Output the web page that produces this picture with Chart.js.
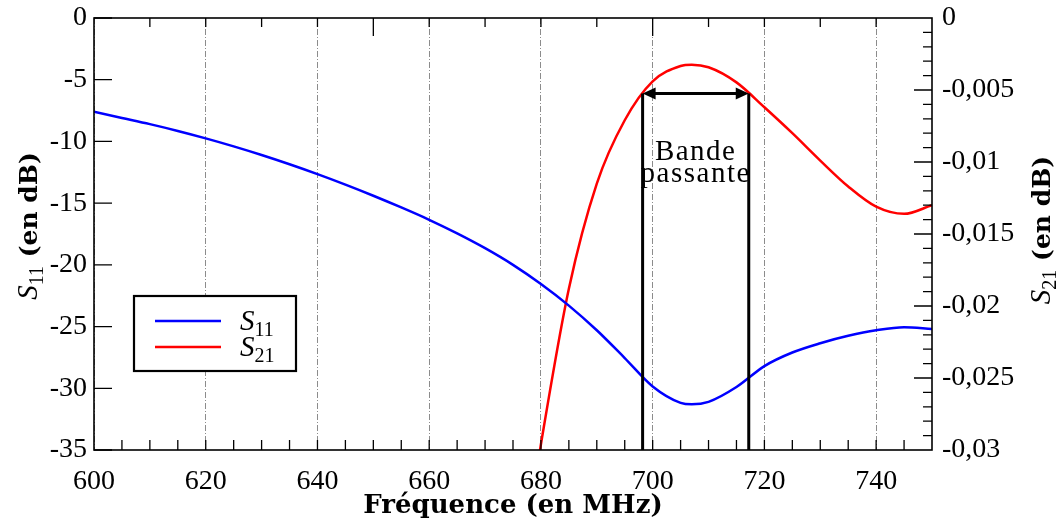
<!DOCTYPE html>
<html>
<head>
<meta charset="utf-8">
<script src="https://cdn.jsdelivr.net/npm/chart.js@4.4.1/dist/chart.umd.min.js"></script>
<style>
  html, body { margin: 0; padding: 0; background: #fff; }
</style>
</head>
<body>
<canvas id="graphe" width="1064" height="525"></canvas>
<script>
// S11 (dB), axe de gauche
const freqS11 = [600, 605, 610, 615, 620, 625, 630, 635, 640, 645, 650, 655, 660, 665, 670, 675,
                 680, 685, 690, 695, 700, 705, 707, 710, 715, 720, 725, 730, 735, 740, 745, 750];
const valS11 = [-7.6, -8.1, -8.6, -9.15, -9.75, -10.4, -11.1, -11.85, -12.65, -13.5, -14.4, -15.35, -16.35, -17.45, -18.65, -20.0,
                -21.55, -23.3, -25.3, -27.55, -29.85, -31.18, -31.3, -31.1, -29.9, -28.2, -27.1, -26.35, -25.75, -25.3, -25.05, -25.2];

// S21 (dB), axe de droite
const freqS21 = [678, 680, 685, 690, 695, 700, 705, 707, 710, 715, 720, 725, 730, 735, 740, 745, 750];
const valS21 = [-0.0345, -0.0296, -0.0188, -0.0115, -0.0071, -0.0044, -0.00333, -0.00324, -0.00342, -0.00447,
                -0.0062, -0.0080, -0.0099, -0.0117, -0.0131, -0.0136, -0.0130];

// graduations
const xTicks = [600, 620, 640, 660, 680, 700, 720, 740];
const yTicks = [0, -5, -10, -15, -20, -25, -30, -35];
const y2Ticks = [0, -0.005, -0.01, -0.015, -0.02, -0.025, -0.03];

// bande passante
const bande = [698.2, 717.2];
const niveauBande = -0.00525;

const police = "'Liberation Serif', serif";
const policeGras = "'DejaVu Serif', serif";

function points(xs, ys) {
    return xs.map((f, i) => ({ x: f, y: ys[i] }));
}

function virgule(v) {
    return String(v).replace('.', ',');
}

// texte "S11 (en dB)" avec indice, tourné
function titreAxe(ctx, indice, x, y) {
    ctx.save();
    ctx.translate(x, y);
    ctx.rotate(-Math.PI / 2);
    ctx.textBaseline = 'alphabetic';
    ctx.font = 'italic 29px ' + police;
    const wS = ctx.measureText('S').width;
    ctx.font = '20px ' + police;
    const wI = ctx.measureText(indice).width;
    ctx.font = 'bold 25px ' + policeGras;
    const wT = ctx.measureText(' (en dB)').width;
    let px = -(wS + wI + wT) / 2;
    ctx.fillStyle = '#000';
    ctx.font = 'italic 29px ' + police;
    ctx.fillText('S', px, 9);
    px += wS;
    ctx.font = '20px ' + police;
    ctx.fillText(indice, px, 15);
    px += wI;
    ctx.font = 'bold 25px ' + policeGras;
    ctx.fillText(' (en dB)', px, 9);
    ctx.restore();
}

// pas de marge automatique autour des axes
function sansMarge(s) {
    s.paddingTop = 0;
    s.paddingBottom = 0;
    s.paddingLeft = 0;
    s.paddingRight = 0;
}

const cadre = {
    id: 'cadre',
    afterDatasetsDraw(chart) {
        const { ctx, chartArea: a, scales } = chart;
        const x1 = scales.x.getPixelForValue(bande[0]);
        const x2 = scales.x.getPixelForValue(bande[1]);
        const yb = scales.y2.getPixelForValue(niveauBande);
        ctx.save();
        ctx.strokeStyle = '#000';
        ctx.fillStyle = '#000';
        ctx.lineWidth = 3;
        ctx.beginPath();
        ctx.moveTo(x1, a.bottom); ctx.lineTo(x1, yb);
        ctx.moveTo(x2, a.bottom); ctx.lineTo(x2, yb);
        ctx.moveTo(x1 + 8, yb); ctx.lineTo(x2 - 8, yb);
        ctx.stroke();
        // pointes de flèche
        ctx.beginPath();
        ctx.moveTo(x1, yb); ctx.lineTo(x1 + 13, yb - 6); ctx.lineTo(x1 + 13, yb + 6); ctx.closePath();
        ctx.moveTo(x2, yb); ctx.lineTo(x2 - 13, yb - 6); ctx.lineTo(x2 - 13, yb + 6); ctx.closePath();
        ctx.fill();
        ctx.font = '29px ' + police;
        ctx.letterSpacing = '1.5px';
        ctx.textAlign = 'center';
        ctx.textBaseline = 'alphabetic';
        const xm = (x1 + x2) / 2;
        ctx.fillText('Bande', xm, yb + 66);
        ctx.fillText('passante', xm, yb + 88);
        ctx.restore();
    },
    afterDraw(chart) {
        const { ctx, chartArea: a, scales } = chart;
        const sx = scales.x, sy = scales.y, sy2 = scales.y2;
        ctx.save();
        ctx.strokeStyle = '#000';
        ctx.lineWidth = 1.3;
        ctx.beginPath();
        // graduations intérieures
        for (let f = 605; f < 750; f += 5) {
            const p = sx.getPixelForValue(f);
            ctx.moveTo(p, a.bottom); ctx.lineTo(p, a.bottom - 10);
        }
        for (let f = 610; f < 750; f += 10) {
            const p = sx.getPixelForValue(f);
            const l = (f === 650 || f === 700) ? 18 : 9;
            ctx.moveTo(p, a.top); ctx.lineTo(p, a.top + l);
        }
        yTicks.forEach(v => {
            const p = sy.getPixelForValue(v);
            ctx.moveTo(a.left, p); ctx.lineTo(a.left + 18, p);
        });
        for (let k = 1; k < 30; k++) {
            const p = sy2.getPixelForValue(-k / 1000);
            const l = k % 5 === 0 ? 18 : 9;
            ctx.moveTo(a.right, p); ctx.lineTo(a.right - l, p);
        }
        ctx.stroke();
        ctx.lineWidth = 1.6;
        ctx.strokeRect(a.left, a.top, a.width, a.height);

        // légende
        const lx = a.left + 40, ly = a.top + 278;
        ctx.fillStyle = '#fff';
        ctx.fillRect(lx, ly, 162, 75);
        ctx.strokeStyle = '#000';
        ctx.lineWidth = 2.2;
        ctx.strokeRect(lx, ly, 162, 75);
        const noms = ['11', '21'];
        chart.data.datasets.forEach((ds, i) => {
            const yy = ly + 25 + i * 26;
            ctx.strokeStyle = ds.borderColor;
            ctx.lineWidth = 2.5;
            ctx.beginPath();
            ctx.moveTo(lx + 21, yy); ctx.lineTo(lx + 87, yy);
            ctx.stroke();
            ctx.fillStyle = '#000';
            ctx.font = 'italic 29px ' + police;
            ctx.textBaseline = 'alphabetic';
            ctx.fillText('S', lx + 106, yy + 9);
            const w = ctx.measureText('S').width;
            ctx.font = '20px ' + police;
            ctx.fillText(noms[i], lx + 106 + w, yy + 15);
        });

        // titres des axes
        titreAxe(ctx, '11', 28, 226);
        titreAxe(ctx, '21', 1041, 230);
        ctx.fillStyle = '#000';
        ctx.font = 'bold 26px ' + policeGras;
        ctx.textAlign = 'center';
        ctx.textBaseline = 'alphabetic';
        ctx.fillText('Fréquence (en MHz)', (a.left + a.right) / 2, 513);
        ctx.restore();
    }
};

new Chart(document.getElementById('graphe'), {
    type: 'line',
    data: {
        datasets: [{
            label: 'S11',
            data: points(freqS11, valS11),
            yAxisID: 'y',
            borderColor: '#0000ff',
            borderWidth: 2.5,
            pointRadius: 0,
            cubicInterpolationMode: 'monotone'
        }, {
            label: 'S21',
            data: points(freqS21, valS21),
            yAxisID: 'y2',
            borderColor: '#ff0000',
            borderWidth: 2.5,
            pointRadius: 0,
            cubicInterpolationMode: 'monotone'
        }]
    },
    options: {
        responsive: false,
        devicePixelRatio: 1,
        animation: false,
        layout: { padding: { top: 18, left: 0, right: 0, bottom: 0 } },
        plugins: {
            legend: { display: false },
            tooltip: { enabled: false }
        },
        scales: {
            x: {
                type: 'linear',
                min: 600,
                max: 750,
                afterBuildTicks: s => { s.ticks = xTicks.map(v => ({ value: v })); },
                afterFit: s => { s.height = 75; sansMarge(s); },
                ticks: {
                    font: { family: police, size: 28 },
                    color: '#000',
                    padding: 15,
                    maxRotation: 0
                },
                grid: {
                    color: '#8c8c8c',
                    lineWidth: 1,
                    drawTicks: false
                },
                border: { display: false, dash: [6, 2, 1, 2] }
            },
            y: {
                position: 'left',
                min: -35,
                max: 0,
                afterBuildTicks: s => { s.ticks = yTicks.map(v => ({ value: v })); },
                afterFit: s => { s.width = 94; sansMarge(s); },
                ticks: {
                    font: { family: police, size: 28 },
                    color: '#000',
                    padding: 7
                },
                grid: { display: false, drawTicks: false },
                border: { display: false }
            },
            y2: {
                position: 'right',
                min: -0.03,
                max: 0,
                afterBuildTicks: s => { s.ticks = y2Ticks.map(v => ({ value: v })); },
                afterFit: s => { s.width = 132; sansMarge(s); },
                ticks: {
                    font: { family: police, size: 28 },
                    color: '#000',
                    padding: 10,
                    callback: v => virgule(v)
                },
                grid: { display: false, drawTicks: false },
                border: { display: false }
            }
        }
    },
    plugins: [cadre]
});
</script>
</body>
</html>
